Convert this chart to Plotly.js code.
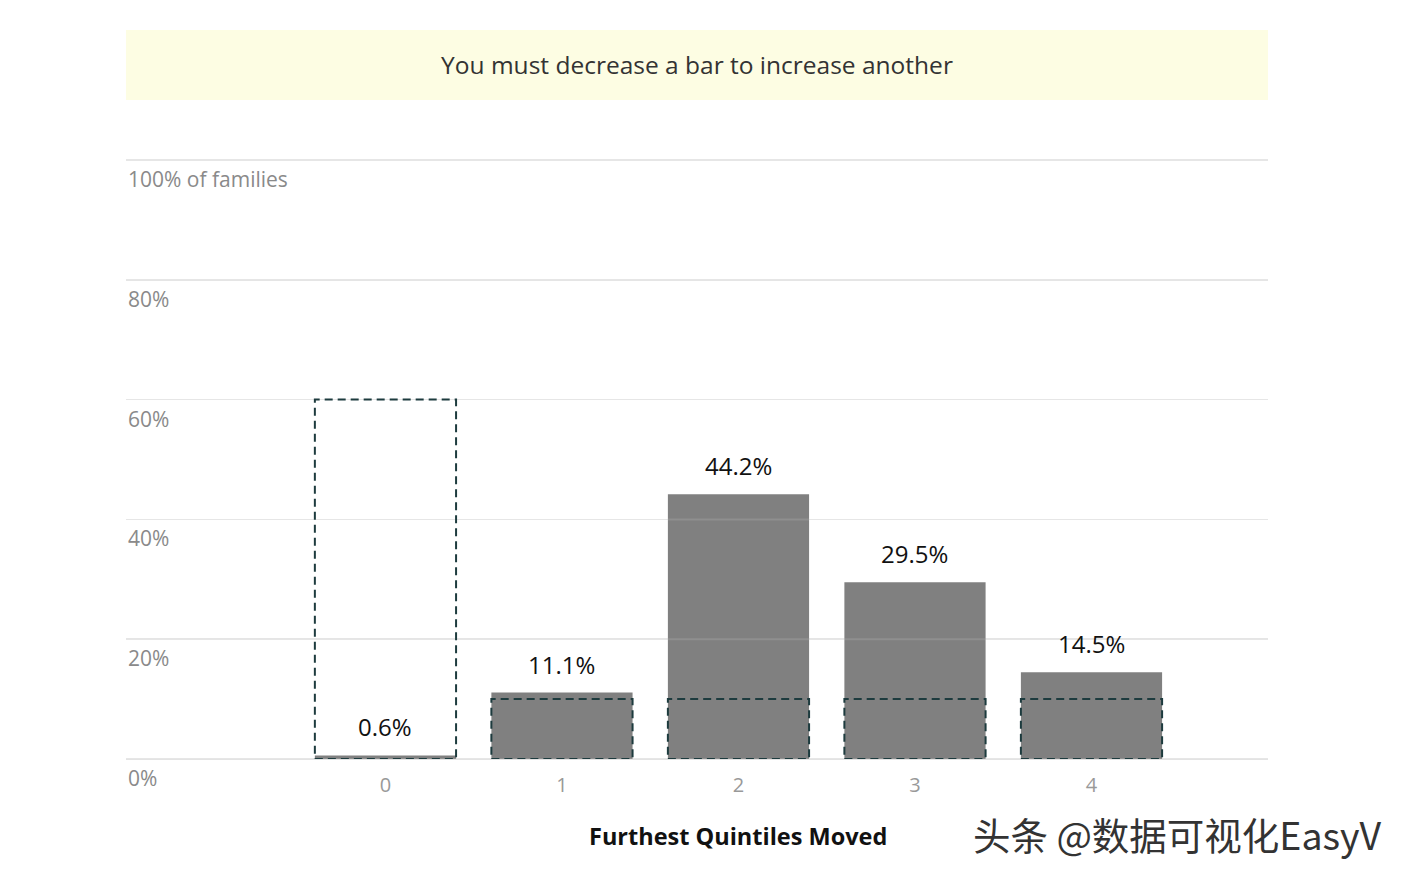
<!DOCTYPE html>
<html>
<head>
<meta charset="utf-8">
<script src="https://cdn.plot.ly/plotly-3.0.1.min.js"></script>
<style>
  html, body { margin: 0; padding: 0; background: #fff; }
  #chart { width: 1408px; height: 878px; }
</style>
</head>
<body>
<div id="chart"></div>
<script>
const quintiles = [0, 1, 2, 3, 4];
const shares = [0.6, 11.1, 44.2, 29.5, 14.5];
const guesses = [60, 10, 10, 10, 10];
const yTicks = [0, 20, 40, 60, 80, 100];
const yTickLabels = ["0%", "20%", "40%", "60%", "80%", "100% of families"];

const font = "'Open Sans', sans-serif";
const barWidth = 0.8;

const bars = {
  x: quintiles,
  y: shares,
  type: "bar",
  width: barWidth,
  marker: { color: "rgb(128,128,128)" },
  hoverinfo: "skip",
};

// dashed outlines for the reader's guess
const guessShapes = quintiles.map((q, i) => ({
  type: "rect",
  xref: "x", yref: "y",
  x0: q - barWidth / 2, x1: q + barWidth / 2,
  y0: 0, y1: guesses[i],
  line: { color: "#1d3b3e", width: 2, dash: "8px,5px" },
  fillcolor: "rgba(0,0,0,0)",
  layer: "above",
}));

// faint grid lines that show through the bars
const gridOver = yTicks.map(t => ({
  type: "line", xref: "paper", yref: "y",
  x0: 0, x1: 1, y0: t, y1: t,
  line: { color: "rgba(255,255,255,0.12)", width: 2 },
  layer: "above",
}));

const plotH = 878 - 157 - 119;
const plotW = 1408 - 126 - 140;

const titleBox = {
  type: "rect", xref: "paper", yref: "paper",
  x0: 0, x1: 1, y0: (759 - 100) / plotH, y1: (759 - 30) / plotH,
  line: { width: 0 }, fillcolor: "#fdfde3", layer: "below",
};

const tickNotes = yTicks.map((t, i) => ({
  x: 0, xref: "paper", y: t, yref: "y",
  text: yTickLabels[i], showarrow: false,
  xanchor: "left", yanchor: "top", yshift: -3,
  font: { family: font, size: 21, color: "#8a8a8a" },
}));

const valueNotes = quintiles.map((q, i) => ({
  x: q, xref: "x", y: shares[i], yref: "y",
  text: shares[i].toFixed(1) + "%", showarrow: false,
  xanchor: "center", yanchor: "bottom", yshift: 10,
  font: { family: font, size: 24, color: "#111" },
}));

const layout = {
  width: 1408, height: 878,
  margin: { l: 126, r: 140, t: 157, b: 119 },
  paper_bgcolor: "#fff", plot_bgcolor: "#fff",
  showlegend: false,
  title: {
    text: "You must decrease a bar to increase another",
    x: 0.5, xref: "paper", xanchor: "center",
    y: 0.925, yanchor: "middle",
    font: { family: font, size: 24.5, color: "#333" },
  },
  xaxis: {
    range: [-1.47, 5.0],
    tickvals: quintiles,
    ticktext: quintiles.map(String),
    tickfont: { family: font, size: 20, color: "#999" },
    ticklabelstandoff: 12,
    showgrid: false, zeroline: false, showline: false,
    ticks: "", fixedrange: true,
  },
  yaxis: {
    range: [0, 100.5],
    tickvals: yTicks,
    showticklabels: false,
    gridcolor: "#e3e3e3", gridwidth: 1.5,
    zeroline: true, zerolinecolor: "#e3e3e3", zerolinewidth: 1.5,
    ticks: "", fixedrange: true,
  },
  shapes: [titleBox].concat(gridOver, guessShapes),
  annotations: tickNotes.concat(valueNotes, [
    {
      x: 2, xref: "x", y: (759 - 836) / plotH, yref: "paper",
      xanchor: "center", yanchor: "middle",
      text: "<b>Furthest Quintiles Moved</b>", showarrow: false,
      font: { family: font, size: 23.5, color: "#111" },
    },
    {
      x: (1177 - 126) / plotW, xref: "paper", y: (759 - 833) / plotH, yref: "paper",
      xanchor: "center", yanchor: "middle",
      text: "头条 @数据可视化EasyV", showarrow: false,
      font: { family: "'Noto Sans CJK SC', sans-serif", size: 37.5, color: "#333" },
    },
  ]),
};

Plotly.newPlot("chart", [bars], layout, { staticPlot: true });
</script>
</body>
</html>
